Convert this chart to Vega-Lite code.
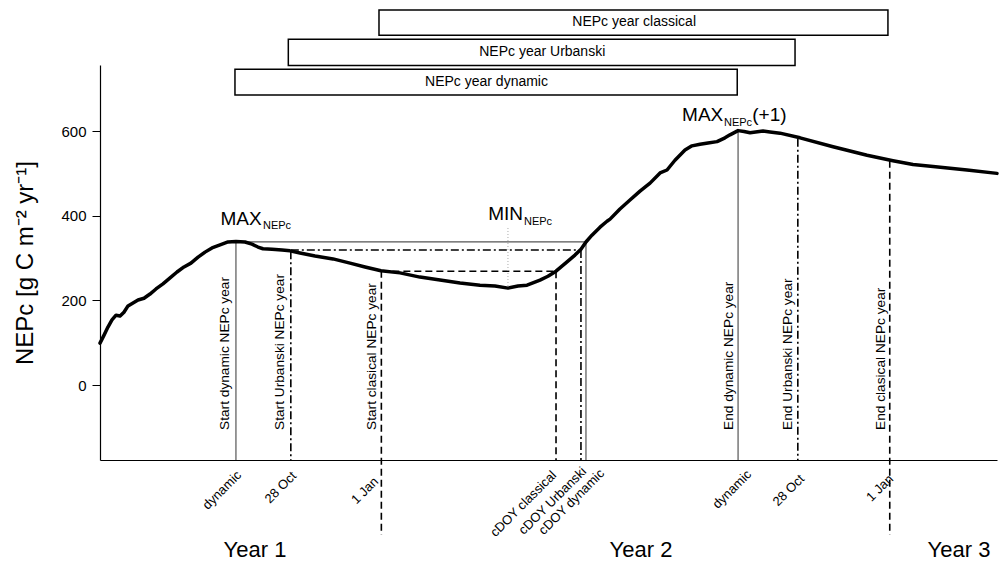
{
  "$schema": "https://vega.github.io/schema/vega-lite/v6.json",
  "width": 897,
  "height": 395,
  "autosize": {"type": "none"},
  "padding": {"left": 100, "top": 65, "right": 6, "bottom": 102},
  "background": "white",
  "config": {"view": {"stroke": null}, "font": "Liberation Sans"},
  "datasets": {
    "curve": [
      {"x": 163.0, "y": 99}, {"x": 165.9, "y": 118}, {"x": 168.7, "y": 137}, {"x": 171.6, "y": 154},
      {"x": 174.5, "y": 165}, {"x": 177.4, "y": 163}, {"x": 180.2, "y": 172}, {"x": 183.1, "y": 187},
      {"x": 186.7, "y": 194}, {"x": 190.3, "y": 201}, {"x": 194.6, "y": 205}, {"x": 198.9, "y": 215},
      {"x": 203.2, "y": 227}, {"x": 208.2, "y": 239}, {"x": 213.3, "y": 253}, {"x": 218.3, "y": 267},
      {"x": 223.3, "y": 279}, {"x": 228.3, "y": 288}, {"x": 233.4, "y": 302}, {"x": 238.4, "y": 314},
      {"x": 243.4, "y": 324}, {"x": 249.2, "y": 331}, {"x": 254.9, "y": 338}, {"x": 260.6, "y": 339},
      {"x": 267.1, "y": 338}, {"x": 272.1, "y": 333}, {"x": 276.4, "y": 326}, {"x": 280.0, "y": 322},
      {"x": 286.5, "y": 321}, {"x": 293.7, "y": 319}, {"x": 299.4, "y": 317}, {"x": 306.6, "y": 312},
      {"x": 317.4, "y": 305}, {"x": 330.3, "y": 298}, {"x": 342.5, "y": 288}, {"x": 353.3, "y": 279},
      {"x": 364.7, "y": 270}, {"x": 378.4, "y": 265}, {"x": 392.7, "y": 255}, {"x": 407.1, "y": 248},
      {"x": 421.5, "y": 241}, {"x": 435.8, "y": 236}, {"x": 446.6, "y": 234}, {"x": 455.9, "y": 229},
      {"x": 463.1, "y": 234}, {"x": 469.6, "y": 236}, {"x": 478.9, "y": 248}, {"x": 484.6, "y": 257},
      {"x": 490.4, "y": 269}, {"x": 498.3, "y": 291}, {"x": 504.0, "y": 307}, {"x": 508.3, "y": 321},
      {"x": 511.9, "y": 338}, {"x": 516.2, "y": 354}, {"x": 522.0, "y": 373}, {"x": 527.0, "y": 387},
      {"x": 529.2, "y": 392}, {"x": 536.3, "y": 416}, {"x": 543.5, "y": 437}, {"x": 550.7, "y": 458},
      {"x": 557.9, "y": 477}, {"x": 565.1, "y": 501}, {"x": 570.1, "y": 508}, {"x": 575.8, "y": 531},
      {"x": 583.0, "y": 555}, {"x": 588.0, "y": 565}, {"x": 593.8, "y": 569}, {"x": 599.5, "y": 572},
      {"x": 606.0, "y": 575}, {"x": 611.7, "y": 584}, {"x": 615.3, "y": 591}, {"x": 621.1, "y": 601},
      {"x": 625.4, "y": 599}, {"x": 629.7, "y": 596}, {"x": 639.0, "y": 600}, {"x": 644.0, "y": 598},
      {"x": 651.2, "y": 595}, {"x": 665.6, "y": 584}, {"x": 689.3, "y": 563}, {"x": 713.7, "y": 543},
      {"x": 732.3, "y": 530}, {"x": 746.7, "y": 521}, {"x": 761.1, "y": 516}, {"x": 785.5, "y": 508},
      {"x": 807.0, "y": 500}
    ],
    "guides": [
      {"x": 260.6, "x2": 260.6, "y": 339, "y2": -177, "kind": "solid"},
      {"x": 300, "x2": 300, "y": 316, "y2": -177, "kind": "dashdot"},
      {"x": 365, "x2": 365, "y": 270, "y2": -354, "kind": "dashed"},
      {"x": 490.4, "x2": 490.4, "y": 269, "y2": -177, "kind": "dashed"},
      {"x": 508.3, "x2": 508.3, "y": 319, "y2": -177, "kind": "dashdot"},
      {"x": 511.9, "x2": 511.9, "y": 338, "y2": -177, "kind": "solid"},
      {"x": 455.9, "x2": 455.9, "y": 371, "y2": 224, "kind": "dotted"},
      {"x": 621.1, "x2": 621.1, "y": 601, "y2": -177, "kind": "solid"},
      {"x": 664, "x2": 664, "y": 582, "y2": -177, "kind": "dashdot"},
      {"x": 730, "x2": 730, "y": 530, "y2": -354, "kind": "dashed"},
      {"x": 260.6, "x2": 511.9, "y": 338, "y2": 338, "kind": "solid"},
      {"x": 300, "x2": 508.3, "y": 319, "y2": 319, "kind": "dashdot"},
      {"x": 365, "x2": 490.4, "y": 269, "y2": 269, "kind": "dashed"}
    ],
    "boxes": [
      {"x": 363.3, "x2": 728.7, "y": 886, "y2": 826},
      {"x": 298.2, "x2": 662.0, "y": 817, "y2": 755},
      {"x": 259.9, "x2": 620.5, "y": 746, "y2": 685}
    ],
    "boxtext": [
      {"x": 546.5, "y": 857, "t": "NEPc year classical"},
      {"x": 480.5, "y": 787, "t": "NEPc year Urbanski"},
      {"x": 440.5, "y": 716, "t": "NEPc year dynamic"}
    ],
    "vlabels": [
      {"x": 255.8, "y": -106, "t": "Start dynamic NEPc year"},
      {"x": 295.0, "y": -106, "t": "Start Urbanski NEPc year"},
      {"x": 360.8, "y": -106, "t": "Start clasical NEPc year"},
      {"x": 617.8, "y": -106, "t": "End dynamic NEPc year"},
      {"x": 659.9, "y": -106, "t": "End Urbanski NEPc year"},
      {"x": 726.8, "y": -106, "t": "End clasical NEPc year"}
    ],
    "ticklabels": [
      {"x": 259.9, "y": -198, "t": "dynamic"},
      {"x": 299.4, "y": -200, "t": "28 Oct"},
      {"x": 358.3, "y": -213, "t": "1 Jan"},
      {"x": 486.1, "y": -198, "t": "cDOY classical"},
      {"x": 507.6, "y": -189, "t": "cDOY Urbanski"},
      {"x": 520.5, "y": -194, "t": "cDOY dynamic"},
      {"x": 626.1, "y": -196, "t": "dynamic"},
      {"x": 664.1, "y": -207, "t": "28 Oct"},
      {"x": 728.0, "y": -207, "t": "1 Jan"}
    ],
    "years": [
      {"x": 274.3, "y": -406, "t": "Year 1"},
      {"x": 551.4, "y": -406, "t": "Year 2"},
      {"x": 779.7, "y": -406, "t": "Year 3"}
    ],
    "bigRight": [
      {"x": 279.1, "y": 378, "t": "MAX"},
      {"x": 466.7, "y": 390, "t": "MIN"},
      {"x": 610.5, "y": 624, "t": "MAX"}
    ],
    "subs": [
      {"x": 280.0, "y": 368, "t": "NEPc"},
      {"x": 467.4, "y": 378, "t": "NEPc"},
      {"x": 611.0, "y": 612, "t": "NEPc"}
    ],
    "bigLeft": [
      {"x": 631.3, "y": 624, "t": "(+1)"}
    ]
  },
  "encoding": {
    "x": {
      "field": "x", "type": "quantitative",
      "scale": {"domain": [163, 807], "nice": false, "zero": false},
      "axis": {"domain": true, "domainColor": "#000", "domainWidth": 1.2, "ticks": false, "labels": false, "grid": false, "title": null}
    },
    "y": {
      "field": "y", "type": "quantitative",
      "scale": {"domain": [-177, 756], "nice": false, "zero": false},
      "axis": {
        "values": [0, 200, 400, 600], "grid": false, "tickSize": 8, "tickColor": "#000", "tickWidth": 1,
        "domainColor": "#000", "domainWidth": 1.2,
        "labelFontSize": 15, "labelColor": "#000", "labelPadding": 6,
        "title": "NEPc [g C m⁻² yr⁻¹]", "titleFontSize": 24, "titleFontWeight": "normal", "titleColor": "#000", "titlePadding": 23
      }
    }
  },
  "layer": [
    {"data": {"name": "boxes"}, "mark": {"type": "rect", "fill": "white", "stroke": "#000", "strokeWidth": 1.5},
     "encoding": {"x2": {"field": "x2"}, "y2": {"field": "y2"}}},
    {"data": {"name": "boxtext"}, "mark": {"type": "text", "fontSize": 14, "align": "center", "baseline": "middle", "color": "#000"},
     "encoding": {"text": {"field": "t"}}},
    {"data": {"name": "guides"}, "transform": [{"filter": "datum.kind == 'solid'"}],
     "mark": {"type": "rule", "color": "#555", "strokeWidth": 1.2},
     "encoding": {"x2": {"field": "x2"}, "y2": {"field": "y2"}}},
    {"data": {"name": "guides"}, "transform": [{"filter": "datum.kind == 'dashdot'"}],
     "mark": {"type": "rule", "color": "#000", "strokeWidth": 1.6, "strokeDash": [8, 3, 2, 3]},
     "encoding": {"x2": {"field": "x2"}, "y2": {"field": "y2"}}},
    {"data": {"name": "guides"}, "transform": [{"filter": "datum.kind == 'dashed'"}],
     "mark": {"type": "rule", "color": "#000", "strokeWidth": 1.6, "strokeDash": [7, 4]},
     "encoding": {"x2": {"field": "x2"}, "y2": {"field": "y2"}}},
    {"data": {"name": "guides"}, "transform": [{"filter": "datum.kind == 'dotted'"}],
     "mark": {"type": "rule", "color": "#aaa", "strokeWidth": 1, "strokeDash": [1, 2]},
     "encoding": {"x2": {"field": "x2"}, "y2": {"field": "y2"}}},
    {"data": {"name": "curve"}, "mark": {"type": "line", "color": "#000", "strokeWidth": 3.5, "strokeJoin": "round", "strokeCap": "round"}},
    {"data": {"name": "vlabels"}, "mark": {"type": "text", "angle": 270, "align": "left", "baseline": "alphabetic", "fontSize": 13.7, "color": "#000"},
     "encoding": {"text": {"field": "t"}}},
    {"data": {"name": "ticklabels"}, "mark": {"type": "text", "angle": 315, "align": "right", "baseline": "top", "fontSize": 13, "color": "#000"},
     "encoding": {"text": {"field": "t"}}},
    {"data": {"name": "years"}, "mark": {"type": "text", "align": "center", "baseline": "alphabetic", "fontSize": 22, "color": "#000"},
     "encoding": {"text": {"field": "t"}}},
    {"data": {"name": "bigRight"}, "mark": {"type": "text", "align": "right", "baseline": "alphabetic", "fontSize": 19, "color": "#000"},
     "encoding": {"text": {"field": "t"}}},
    {"data": {"name": "subs"}, "mark": {"type": "text", "align": "left", "baseline": "alphabetic", "fontSize": 11, "color": "#000"},
     "encoding": {"text": {"field": "t"}}},
    {"data": {"name": "bigLeft"}, "mark": {"type": "text", "align": "left", "baseline": "alphabetic", "fontSize": 19, "color": "#000"},
     "encoding": {"text": {"field": "t"}}}
  ]
}
